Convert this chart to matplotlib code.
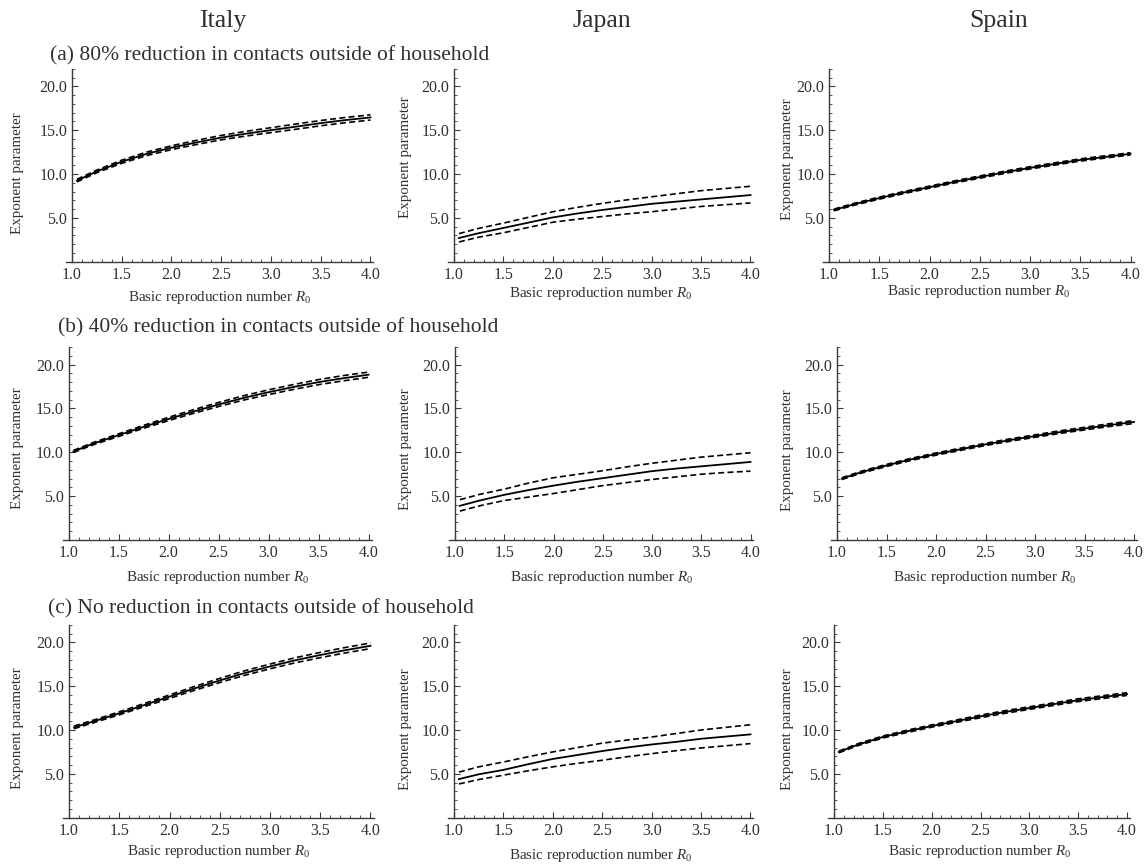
import matplotlib
matplotlib.use("Agg")
import matplotlib.pyplot as plt
from matplotlib.ticker import MultipleLocator, FixedLocator

plt.rcParams['font.family'] = ['Liberation Serif', 'DejaVu Serif']
plt.rcParams['mathtext.fontset'] = 'custom'
plt.rcParams['mathtext.rm'] = 'Liberation Serif'
plt.rcParams['mathtext.it'] = 'Liberation Serif:italic'

# ---------------- data ----------------
countries = ["Italy", "Japan", "Spain"]
scenarios = ["(a) 80% reduction in contacts outside of household",
             "(b) 40% reduction in contacts outside of household",
             "(c) No reduction in contacts outside of household"]
r0 = [1.05, 1.25, 1.5, 1.75, 2.0, 2.25, 2.5, 2.75, 3.0, 3.25, 3.5, 3.75, 4.0]
x_ticks = [1.0, 1.5, 2.0, 2.5, 3.0, 3.5, 4.0]
y_ticks = [5.0, 10.0, 15.0, 20.0]

# (a) 80% reduction
italy_a_mid = [9.25, 10.3, 11.4, 12.3, 13.0, 13.6, 14.15, 14.6, 15.0, 15.4, 15.8, 16.15, 16.45]
italy_a_up  = [9.4, 10.45, 11.58, 12.5, 13.22, 13.84, 14.4, 14.87, 15.28, 15.7, 16.1, 16.45, 16.75]
italy_a_lo  = [9.1, 10.15, 11.22, 12.1, 12.78, 13.36, 13.9, 14.33, 14.72, 15.1, 15.5, 15.85, 16.15]
japan_a_mid = [2.7, 3.25, 3.85, 4.45, 5.05, 5.5, 5.9, 6.25, 6.6, 6.85, 7.1, 7.35, 7.6]
japan_a_up  = [3.2, 3.8, 4.4, 5.05, 5.7, 6.2, 6.65, 7.05, 7.4, 7.75, 8.1, 8.35, 8.6]
japan_a_lo  = [2.25, 2.8, 3.3, 3.9, 4.5, 4.85, 5.15, 5.45, 5.7, 6.0, 6.3, 6.5, 6.7]
spain_a_mid = [5.9, 6.55, 7.25, 7.9, 8.5, 9.1, 9.65, 10.2, 10.7, 11.15, 11.6, 11.95, 12.3]
spain_a_up  = [6.0, 6.66, 7.37, 8.02, 8.62, 9.22, 9.78, 10.33, 10.83, 11.28, 11.73, 12.08, 12.43]
spain_a_lo  = [5.8, 6.44, 7.13, 7.78, 8.38, 8.98, 9.52, 10.07, 10.57, 11.02, 11.47, 11.82, 12.17]

# (b) 40% reduction
italy_b_mid = [10.1, 11.0, 11.95, 12.9, 13.8, 14.65, 15.45, 16.2, 16.85, 17.45, 18.0, 18.45, 18.85]
italy_b_up  = [10.22, 11.13, 12.1, 13.07, 13.99, 14.86, 15.68, 16.45, 17.12, 17.73, 18.29, 18.75, 19.15]
italy_b_lo  = [9.98, 10.87, 11.8, 12.73, 13.61, 14.44, 15.22, 15.95, 16.58, 17.17, 17.71, 18.15, 18.55]
japan_b_mid = [3.9, 4.5, 5.15, 5.7, 6.2, 6.65, 7.05, 7.45, 7.85, 8.15, 8.4, 8.65, 8.9]
japan_b_up  = [4.6, 5.2, 5.8, 6.5, 7.1, 7.5, 7.9, 8.35, 8.75, 9.1, 9.45, 9.7, 9.95]
japan_b_lo  = [3.3, 3.9, 4.5, 4.9, 5.3, 5.75, 6.2, 6.55, 6.9, 7.2, 7.5, 7.7, 7.85]
spain_b_mid = [7.0, 7.75, 8.5, 9.2, 9.8, 10.35, 10.9, 11.4, 11.85, 12.3, 12.7, 13.1, 13.45]
spain_b_up  = [7.1, 7.86, 8.62, 9.32, 9.93, 10.48, 11.03, 11.54, 11.99, 12.45, 12.85, 13.26, 13.62]
spain_b_lo  = [6.9, 7.64, 8.38, 9.08, 9.67, 10.22, 10.77, 11.26, 11.71, 12.15, 12.55, 12.94, 13.28]

# (c) no reduction
italy_c_mid = [10.3, 11.0, 11.9, 12.85, 13.8, 14.75, 15.65, 16.5, 17.25, 17.95, 18.55, 19.1, 19.6]
italy_c_up  = [10.45, 11.15, 12.07, 13.03, 14.0, 14.97, 15.89, 16.76, 17.52, 18.24, 18.85, 19.41, 19.92]
italy_c_lo  = [10.15, 10.85, 11.73, 12.67, 13.6, 14.53, 15.41, 16.24, 16.98, 17.66, 18.25, 18.79, 19.28]
japan_c_mid = [4.4, 4.95, 5.45, 6.1, 6.7, 7.15, 7.6, 8.0, 8.35, 8.65, 9.0, 9.25, 9.5]
japan_c_up  = [5.2, 5.8, 6.35, 6.95, 7.5, 8.0, 8.5, 8.85, 9.2, 9.6, 10.0, 10.3, 10.6]
japan_c_lo  = [3.85, 4.35, 4.85, 5.35, 5.8, 6.2, 6.55, 6.95, 7.3, 7.65, 7.95, 8.2, 8.45]
spain_c_mid = [7.5, 8.35, 9.2, 9.85, 10.45, 11.0, 11.55, 12.05, 12.5, 12.95, 13.4, 13.75, 14.1]
spain_c_up  = [7.6, 8.46, 9.32, 9.98, 10.58, 11.14, 11.7, 12.2, 12.65, 13.1, 13.56, 13.91, 14.26]
spain_c_lo  = [7.4, 8.24, 9.08, 9.72, 10.32, 10.86, 11.4, 11.9, 12.35, 12.8, 13.24, 13.59, 13.94]

panels = [
    [(italy_a_mid, italy_a_up, italy_a_lo), (japan_a_mid, japan_a_up, japan_a_lo), (spain_a_mid, spain_a_up, spain_a_lo)],
    [(italy_b_mid, italy_b_up, italy_b_lo), (japan_b_mid, japan_b_up, japan_b_lo), (spain_b_mid, spain_b_up, spain_b_lo)],
    [(italy_c_mid, italy_c_up, italy_c_lo), (japan_c_mid, japan_c_up, japan_c_lo), (spain_c_mid, spain_c_up, spain_c_lo)],
]

# ---------------- layout (pixels) ----------------
W, H = 1147, 865
fig = plt.figure(figsize=(W / 100, H / 100), dpi=100)

x_px = [  # (pixel of R0=1.0, pixel of R0=4.0) per row/col
    [(72, 370.5), (454, 750.5), (829, 1130.5)],
    [(68.5, 368.5), (455, 750.5), (837, 1134)],
    [(69, 370.5), (454, 750.5), (834, 1127)],
]
axis_y_px = [261.7, 540.0, 817.7]
sy = 8.77
ylabel_x_px = [18, 405, 788]
ylabel_center = [[10.1, 11.9, 11.7], [10.5, 10.4, 10.3], [10.2, 10.1, 10.1]]
xlabel_y_px = [[298, 294, 291], [578, 578, 578], [851, 856, 851]]
title_y_px = [60, 332, 613]
title_x_px = [50, 58, 48]

AX_COL = '#3a3a3a'
TXT_COL = '#303030'

for i in range(3):
    for j in range(3):
        x1, x4 = x_px[i][j]
        sx = (x4 - x1) / 3.0
        left = x1 - 0.06 * sx
        right = x1 + 3.03 * sx
        bottom = axis_y_px[i]
        top = bottom - 22 * sy
        ax = fig.add_axes([left / W, 1 - bottom / H, (right - left) / W, (bottom - top) / H])
        ax.set_xlim(0.94, 4.03)
        ax.set_ylim(0, 22)
        mid, up, lo = panels[i][j]
        ax.plot(r0, up, color='black', lw=1.2, dashes=(3.6, 2.0))
        ax.plot(r0, lo, color='black', lw=1.2, dashes=(3.6, 2.0))
        ax.plot(r0, mid, color='black', lw=1.3)
        for s in ['top', 'right']:
            ax.spines[s].set_visible(False)
        ax.spines['left'].set_position(('data', 1.0))
        for s in ['left', 'bottom']:
            ax.spines[s].set_color(AX_COL)
            ax.spines[s].set_linewidth(1.0)
        ax.xaxis.set_major_locator(FixedLocator(x_ticks))
        ax.xaxis.set_minor_locator(MultipleLocator(0.1))
        ax.yaxis.set_major_locator(FixedLocator(y_ticks))
        ax.yaxis.set_minor_locator(MultipleLocator(1))
        ax.set_xticklabels([f"{v:.1f}" for v in x_ticks])
        ax.set_yticklabels([f"{v:.1f}" for v in y_ticks])
        ax.tick_params(which='major', direction='in', length=4.5, width=0.8,
                       color=AX_COL, labelsize=11.5, labelcolor=TXT_COL, pad=3.5)
        ax.tick_params(which='minor', direction='in', length=2.2, width=0.6, color=AX_COL)
        ax.tick_params(axis='x', which='both', top=False)
        ax.tick_params(axis='y', which='both', right=False)
        # axis labels
        yc = ylabel_center[i][j]
        fig.text(ylabel_x_px[j] / W, 1 - (bottom - yc * sy) / H, "Exponent parameter",
                 rotation=90, ha='center', va='center', fontsize=10.8, color=TXT_COL)
        xc = (left + right) / 2
        fig.text(xc / W, 1 - xlabel_y_px[i][j] / H, r"Basic reproduction number $R_{\mathrm{0}}$",
                 ha='center', va='center', fontsize=10.8, color=TXT_COL)

# column headers
col_x = [223, 602, 999]
for j, c in enumerate(countries):
    fig.text(col_x[j] / W, 1 - 27 / H, c, ha='center', va='baseline', fontsize=18.5, color=TXT_COL)

# row headers
for i, s in enumerate(scenarios):
    fig.text(title_x_px[i] / W, 1 - title_y_px[i] / H, s, ha='left', va='baseline',
             fontsize=15.5, color=TXT_COL)

fig.savefig("out.png", dpi=100, facecolor='white')
